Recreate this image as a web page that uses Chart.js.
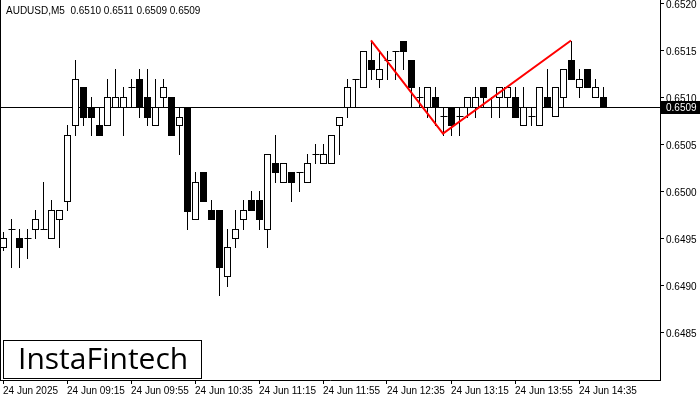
<!doctype html>
<html>
<head>
<script src="https://cdn.jsdelivr.net/npm/chart.js@4.4.0/dist/chart.umd.min.js"></script>
<style>
	body { margin: 0; background: #fff; }
	#holder { position: relative; width: 700px; height: 400px; }
</style>
</head>
<body>
<div id="holder"><canvas id="chart-area" width="700" height="400"></canvas></div>
<script>
// AUDUSD M5, 24 Jun 2025 from 08:35
var opens = [0.64941,0.64961,0.64951,0.64951,0.64961,0.64961,0.64951,0.64971,0.64990,0.65071,
	0.65111,0.65090,0.65071,0.65071,0.65090,0.65090,0.65111,0.65120,0.65101,0.65071,
	0.65101,0.65101,0.65071,0.65090,0.64971,0.65021,0.64981,0.64981,0.64911,0.64951,
	0.64971,0.64991,0.64991,0.64961,0.65031,0.65011,0.65021,0.65021,0.65011,0.65040,
	0.65031,0.65031,0.65071,0.65090,0.65120,0.65111,0.65140,0.65120,0.65140,0.65150,
	0.65160,0.65140,0.65101,0.65090,0.65101,0.65081,0.65090,0.65081,0.65090,0.65090,
	0.65111,0.65090,0.65101,0.65101,0.65101,0.65071,0.65081,0.65071,0.65101,0.65081,
	0.65101,0.65140,0.65111,0.65131,0.65101,0.65101];
var highs = [0.64957,0.64971,0.64961,0.64961,0.64981,0.65011,0.64991,0.64981,0.65071,0.65140,
	0.65111,0.65101,0.65090,0.65120,0.65131,0.65111,0.65120,0.65131,0.65131,0.65120,
	0.65120,0.65101,0.65090,0.65090,0.65021,0.65021,0.64991,0.64981,0.64961,0.64981,
	0.64991,0.65001,0.65001,0.65040,0.65061,0.65031,0.65021,0.65021,0.65040,0.65051,
	0.65051,0.65061,0.65080,0.65120,0.65120,0.65150,0.65160,0.65150,0.65150,0.65150,
	0.65160,0.65140,0.65111,0.65111,0.65111,0.65090,0.65090,0.65090,0.65101,0.65111,
	0.65111,0.65101,0.65111,0.65111,0.65111,0.65111,0.65090,0.65111,0.65131,0.65111,
	0.65131,0.65160,0.65131,0.65131,0.65120,0.65111];
var lows = [0.64938,0.64920,0.64920,0.64930,0.64951,0.64961,0.64951,0.64941,0.64981,0.65061,
	0.65071,0.65061,0.65061,0.65071,0.65090,0.65061,0.65090,0.65080,0.65071,0.65071,
	0.65090,0.65061,0.65040,0.64961,0.64971,0.64990,0.64971,0.64890,0.64900,0.64941,
	0.64961,0.64981,0.64961,0.64941,0.65011,0.65011,0.64990,0.65001,0.65011,0.65031,
	0.65031,0.65031,0.65040,0.65080,0.65090,0.65111,0.65120,0.65111,0.65120,0.65120,
	0.65131,0.65090,0.65090,0.65080,0.65071,0.65061,0.65061,0.65061,0.65080,0.65080,
	0.65090,0.65080,0.65080,0.65090,0.65080,0.65071,0.65071,0.65071,0.65090,0.65081,
	0.65090,0.65120,0.65101,0.65111,0.65101,0.65090];
var closes = [0.64951,0.64961,0.64941,0.64951,0.64971,0.64961,0.64981,0.64981,0.65061,0.65120,
	0.65080,0.65080,0.65061,0.65101,0.65101,0.65101,0.65111,0.65090,0.65080,0.65090,
	0.65111,0.65061,0.65080,0.64980,0.65011,0.64990,0.64971,0.64920,0.64941,0.64961,
	0.64981,0.64981,0.64971,0.65040,0.65021,0.65031,0.65011,0.65021,0.65031,0.65040,
	0.65040,0.65061,0.65080,0.65111,0.65120,0.65150,0.65131,0.65131,0.65140,0.65150,
	0.65150,0.65111,0.65101,0.65111,0.65090,0.65081,0.65071,0.65081,0.65101,0.65101,
	0.65101,0.65090,0.65111,0.65111,0.65080,0.65090,0.65081,0.65111,0.65090,0.65111,
	0.65131,0.65120,0.65120,0.65111,0.65111,0.65090];

var tickIdx = [0, 8, 16, 24, 32, 40, 48, 56, 64, 72];
var tickLabels = ['24 Jun 2025', '24 Jun 09:15', '24 Jun 09:55', '24 Jun 10:35', '24 Jun 11:15',
	'24 Jun 11:55', '24 Jun 12:35', '24 Jun 13:15', '24 Jun 13:55', '24 Jun 14:35'];
var priceTicks = [0.6485, 0.6490, 0.6495, 0.6500, 0.6505, 0.6510, 0.6515, 0.6520];
var lastPrice = 0.6509;
var titleText = 'AUDUSD,M5  0.6510 0.6511 0.6509 0.6509';

// double top pattern
var patternX = [46, 55, 71];
var patternY = [0.65161, 0.65062, 0.65161];

var FONT = '10px "Liberation Sans"';

var candles = {
	id: 'candles',
	beforeDatasetsDraw: function(chart) {
		var c = chart.ctx, xs = chart.scales.x, ys = chart.scales.y, a = chart.chartArea;
		c.save();
		c.strokeStyle = '#000';
		c.lineWidth = 1;
		c.beginPath(); c.moveTo(a.left + 0.5, a.top); c.lineTo(a.left + 0.5, a.bottom); c.stroke();
		var py = Math.round(ys.getPixelForValue(lastPrice)) + 0.5;
		c.beginPath(); c.moveTo(a.left, py); c.lineTo(a.right, py); c.stroke();
		for (var i = 0; i < opens.length; i++) {
			var x = Math.round(xs.getPixelForValue(i)) + 0.5;
			var yh = Math.round(ys.getPixelForValue(highs[i]));
			var yl = Math.round(ys.getPixelForValue(lows[i]));
			var yo = Math.round(ys.getPixelForValue(opens[i]));
			var yc = Math.round(ys.getPixelForValue(closes[i]));
			c.beginPath(); c.moveTo(x, yh); c.lineTo(x, yl + 1); c.stroke();
			var top = Math.min(yo, yc), bot = Math.max(yo, yc);
			if (bot - top < 1) {
				c.beginPath(); c.moveTo(x - 3, top + 0.5); c.lineTo(x + 4, top + 0.5); c.stroke();
			} else if (closes[i] < opens[i]) {
				c.fillStyle = '#000';
				c.fillRect(x - 3.5, top, 7, bot - top + 1);
			} else {
				c.fillStyle = '#fff';
				c.fillRect(x - 3, top + 0.5, 6, bot - top);
				c.strokeRect(x - 3, top + 0.5, 6, bot - top);
			}
		}
		c.restore();
	},
	afterDraw: function(chart) {
		var c = chart.ctx, ys = chart.scales.y, a = chart.chartArea;
		c.save();
		c.font = FONT;
		c.textBaseline = 'middle';
		c.fillStyle = '#000';
		priceTicks.forEach(function(v) {
			c.fillText(v.toFixed(4), a.right + 6, ys.getPixelForValue(v) + 1);
		});
		var py = Math.round(ys.getPixelForValue(lastPrice));
		c.fillRect(a.right + 1, py - 6, 40, 13);
		c.fillStyle = '#fff';
		c.fillText(lastPrice.toFixed(4), a.right + 6, py + 1);
		c.fillStyle = '#000';
		c.fillText(titleText, 6, 11);
		// logo box
		c.fillStyle = '#fff';
		c.fillRect(3, 340, 198, 38);
		c.strokeRect(3.5, 340.5, 198, 38);
		c.fillStyle = '#000';
		c.font = '500 30px "Open Sans"';
		c.fillText('InstaFintech', 18, 360);
		c.restore();
	}
};

var ctx = document.getElementById('chart-area').getContext('2d');
var patternData = patternX.map(function(x, k) { return { x: x, y: patternY[k] }; });
new Chart(ctx, {
	type: 'line',
	data: {
		datasets: [{
			data: patternData,
			borderColor: '#ff0000',
			borderWidth: 2,
			pointRadius: 0,
			tension: 0
		}]
	},
	options: {
		responsive: false,
		animation: false,
		layout: { padding: 0 },
		plugins: { legend: { display: false }, tooltip: { enabled: false } },
		scales: {
			x: {
				type: 'linear',
				min: -0.375,
				max: 82.125,
				grid: { drawOnChartArea: false, tickLength: 4, color: '#000' },
				border: { display: true, color: '#000' },
				afterBuildTicks: function(axis) {
					axis.ticks = tickIdx.map(function(v) { return { value: v }; });
				},
				afterFit: function(axis) { axis.height = 20; },
				ticks: {
					autoSkip: false,
					maxRotation: 0,
					align: 'start',
					padding: 1,
					color: '#000',
					font: { family: 'Liberation Sans', size: 10 },
					callback: function(v) { return tickLabels[tickIdx.indexOf(v)]; }
				}
			},
			y: {
				position: 'right',
				min: 0.6480,
				max: 0.65204,
				grid: { drawOnChartArea: false, tickLength: 4, color: '#000' },
				border: { display: true, color: '#000' },
				afterBuildTicks: function(axis) {
					axis.ticks = priceTicks.map(function(v) { return { value: v }; });
				},
				afterFit: function(axis) { axis.width = 40; },
				ticks: { display: false }
			}
		}
	},
	plugins: [candles]
});
</script>
</body>
</html>
